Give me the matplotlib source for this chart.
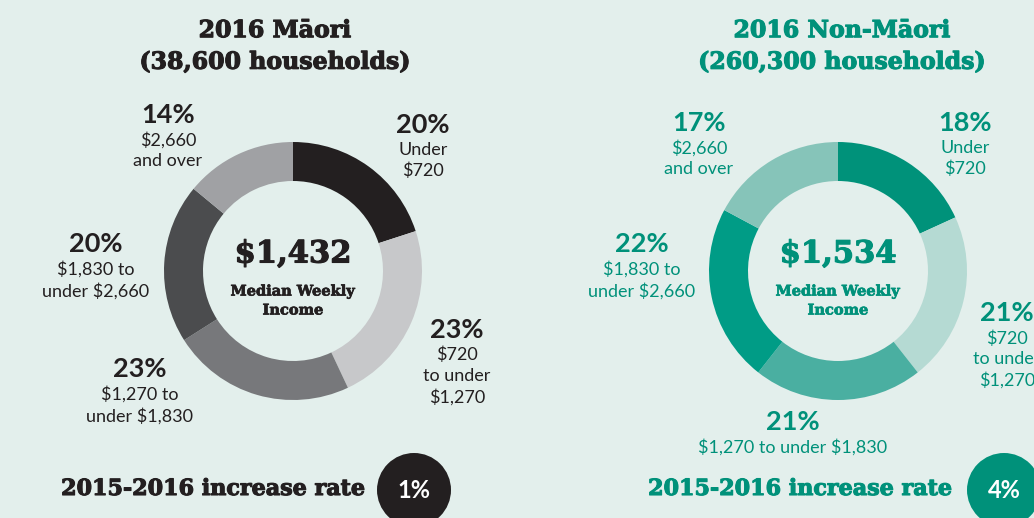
import matplotlib
matplotlib.use("Agg")
from matplotlib import pyplot as plt
from matplotlib.patches import Circle
from matplotlib import patheffects as pe

plt.rcParams['text.parse_math'] = False

#
# data
#
brackets = ["Under\n$720", "$720\nto under\n$1,270", "$1,270 to\nunder $1,830",
            "$1,830 to\nunder $2,660", "$2,660\nand over"]
maori_pct = [20, 23, 23, 20, 14]
nonmaori_pct = [18, 21, 21, 22, 17]
maori_median = "$1,432"
nonmaori_median = "$1,534"
maori_title = "2016 M\u0101ori\n(38,600 households)"
nonmaori_title = "2016 Non-M\u0101ori\n(260,300 households)"
maori_increase = "1%"
nonmaori_increase = "4%"

#
# styles
#
W, H = 1034, 518
BG = "#e3efec"
DARK = "#231f20"
TEAL = "#00917a"
maori_colors = ["#231f20", "#c7c8ca", "#77787b", "#4b4c4e", "#a0a1a4"]
nonmaori_colors = ["#00927a", "#b5dad3", "#4aafa1", "#009c86", "#86c4b9"]
SLAB = "DejaVu Serif"
SANS = "Lato"

fig = plt.figure(figsize=(W / 100, H / 100), dpi=100)
fig.patch.set_facecolor(BG)
ax = fig.add_axes([0, 0, 1, 1])


def Y(y):
    # positions are measured from the top of the picture
    return H - y


def heavy(color, w=0.8):
    # thicken the slab serif a bit, the original face is heavier
    return [pe.withStroke(linewidth=w, foreground=color)]


def donut(cx, cy, pcts, colors, color, title, title_x, median, pct_pos, lab_lines,
          rate_x, circle_x, rate):
    ax.pie(pcts, colors=colors, startangle=90, counterclock=False,
           center=(cx, Y(cy)), radius=129, frame=True,
           wedgeprops=dict(width=39, linewidth=0))
    ax.text(title_x, Y(46), title, ha="center", va="center", fontsize=17,
            fontweight="bold", family=SLAB, color=color, linespacing=1.4,
            path_effects=heavy(color))
    ax.text(cx, Y(254), median, ha="center", va="center", fontsize=22,
            fontweight="bold", family=SLAB, color=color, path_effects=heavy(color))
    ax.text(cx, Y(301), "Median Weekly\nIncome", ha="center", va="center",
            fontsize=10.5, fontweight="bold", family=SLAB, color=color,
            linespacing=1.45, path_effects=heavy(color, 0.5))
    for p, lab, (x, y) in zip(pcts, lab_lines, pct_pos):
        ax.text(x, Y(y), f"{p}%", ha="center", va="center", fontsize=19.5,
                fontweight="bold", family=SANS, color=color)
        ax.text(x, Y(y + 17), lab, ha="center", va="top", fontsize=13,
                family=SANS, color=color, linespacing=1.35)
    ax.text(rate_x, Y(489), "2015-2016 increase rate", ha="center", va="center",
            fontsize=16, fontweight="bold", family=SLAB, color=color,
            path_effects=heavy(color))
    ax.add_patch(Circle((circle_x, Y(490)), 37, color=color, lw=0))
    ax.text(circle_x, Y(490), rate, ha="center", va="center", fontsize=17,
            fontweight="bold", family=SANS, color="white")


# Maori
donut(293, 271, maori_pct, maori_colors, DARK, maori_title, 275, maori_median,
      [(423, 125), (457, 330), (140, 369), (96, 244), (168, 115)],
      brackets, 213, 414, maori_increase)

# Non-Maori (bottom bracket written on one line)
nm_brackets = list(brackets)
nm_brackets[2] = "$1,270 to under $1,830"
donut(838, 271, nonmaori_pct, nonmaori_colors, TEAL, nonmaori_title, 842,
      nonmaori_median,
      [(965, 123), (1007, 313), (793, 422), (642, 244), (699, 123)],
      nm_brackets, 800, 1004, nonmaori_increase)

ax.set_xlim(0, W)
ax.set_ylim(0, H)
ax.set_aspect("equal")
ax.axis("off")

plt.savefig("out.png", dpi=100, facecolor=BG)
